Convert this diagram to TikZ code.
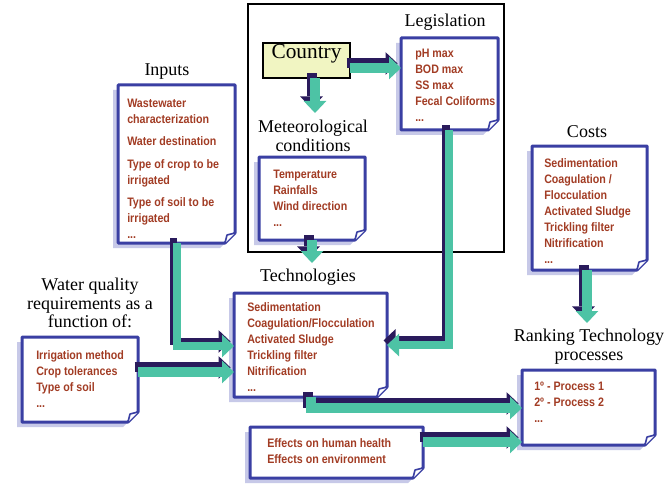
\documentclass[tikz,border=0pt]{standalone}
\usepackage{fontspec}
\setmainfont{Liberation Serif}
\newfontfamily\boxfont[FakeStretch=0.87]{Liberation Sans Bold}
\usetikzlibrary{arrows.meta,fit,backgrounds}
\definecolor{docblue}{HTML}{3A3FA3}
\definecolor{doctext}{HTML}{A23C24}
\definecolor{docshadow}{HTML}{C7C9E8}
\definecolor{arrteal}{HTML}{4DC3A5}
\definecolor{arrdark}{HTML}{2A1B5C}
\definecolor{countryfill}{HTML}{F1F5C2}
\tikzset{
  area/.style={inner sep=0pt, outer sep=0pt},
  lbl/.style={font=\fontsize{13.5}{14}\selectfont, align=center, inner sep=0pt},
  items/.style={font=\boxfont\fontsize{9.2}{12}\selectfont, text=doctext, align=left, inner sep=0pt, anchor=north west},
  fatshaft/.style={line join=miter, -{Triangle[width=17pt,length=9pt,line width=0pt]}},
}
\newcommand\docframe[1]{%
  \fill[docshadow] ([shift={(-5,5)}]#1.north west) -- ([shift={(-5,5)}]#1.north east) -- ([shift={(-5,-5)}]#1.south east) -- ([shift={(-15,5)}]#1.south east) -- ([shift={(-5,5)}]#1.south west) -- cycle;
  \filldraw[fill=white, draw=docblue, line width=2.25pt, line join=round] (#1.north west) -- (#1.north east) -- ([shift={(0,-10)}]#1.south east) -- ([shift={(-10,0)}]#1.south east) -- (#1.south west) -- cycle;
  \filldraw[fill=white, draw=docblue, line width=1.2pt, line join=round] ([shift={(0,-10)}]#1.south east) -- ([shift={(-8,-8)}]#1.south east) -- ([shift={(-10,0)}]#1.south east);
}
\newcommand\fatarrow[2][7.5pt]{%
  \draw[fatshaft, arrdark, line width=#1, transform canvas={shift={(-2.6pt,3.4pt)}}] #2;
  \draw[fatshaft, arrteal, line width=#1] #2;
}
\begin{document}
\begin{tikzpicture}[x=0.75pt,y=-0.75pt]
\useasboundingbox (0,0) rectangle (668,492);

% outer region
\node[area, fit={(248,4)(504,252)}, draw=black, line width=1.5pt] (region) {};

% country
\node[area, fit={(263,43)(350,78)}, draw=black, line width=1.1pt, fill=countryfill, font=\fontsize{16}{18}\selectfont] (country) {Country};

% document boxes (frames)
\node[area, fit={(401,38)(498,130)}] (leg) {};
\node[area, fit={(118,85)(235,243)}] (inp) {};
\node[area, fit={(259,157)(365,240)}] (met) {};
\node[area, fit={(234,293)(387,397)}] (tech) {};
\node[area, fit={(22,337)(138,422)}] (wqr) {};
\node[area, fit={(532,146)(647,270)}] (cost) {};
\node[area, fit={(522,370)(655,445)}] (rank) {};
\node[area, fit={(250,427)(423,478)}] (eff) {};

\begin{scope}[on background layer]
  \fill[white] (0,0) rectangle (668,492);
  \foreach \n in {leg,inp,met,tech,wqr,cost,rank,eff} {\docframe{\n}}
\end{scope}

% texts in boxes
\node[items] (legT) at ([shift={(14,11)}]leg.north west) {pH max\\BOD max\\SS max\\Fecal Coliforms\\...};
\node[items] (inpT) at ([shift={(9,14)}]inp.north west) {Wastewater\\characterization\\[4.5pt]Water destination\\[5pt]Type of crop to be\\irrigated\\[4.5pt]Type of soil to be\\irrigated\\...};
\node[items] (metT) at ([shift={(14,13)}]met.north west) {Temperature\\Rainfalls\\Wind direction\\...};
\node[items] (techT) at ([shift={(13,9)}]tech.north west) {Sedimentation\\Coagulation/Flocculation\\Activated Sludge\\Trickling filter\\Nitrification\\...};
\node[items] (wqrT) at ([shift={(14,13)}]wqr.north west) {Irrigation method\\Crop tolerances\\Type of soil\\...};
\node[items] (costT) at ([shift={(12,12)}]cost.north west) {Sedimentation\\Coagulation /\\Flocculation\\Activated Sludge\\Trickling filter\\Nitrification\\...};
\node[items] (rankT) at ([shift={(12,12)}]rank.north west) {1º - Process 1\\2º - Process 2\\...};
\node[items, font=\boxfont\fontsize{9.2}{12.5}\selectfont] (effT) at ([shift={(17,11)}]eff.north west) {Effects on human health\\Effects on environment};

% labels
\node[lbl] (legL) at (445,22) {Legislation};
\node[lbl] (inpL) at (167,72) {Inputs};
\node[lbl] (metL) at (313,136) {Meteorological\\conditions};
\node[lbl] (techL) at (308,277) {Technologies};
\node[lbl] (wqrL) at (90,303) {Water quality\\requirements as a\\function of:};
\node[lbl] (costL) at (587,132) {Costs};
\node[lbl] (rankL) at (589,347) {Ranking Technology\\processes};

% free ends
\coordinate (metTip) at (315,113);
\coordinate (techTip) at (312,263);
\coordinate (rankTip) at (587,323);

% arrows
\fatarrow{(country.east |- 0,68) -- (leg.west |- 0,68)}
\fatarrow{(country.south -| 315,0) -- (metTip)}
\fatarrow{(met.south -| 312,0) -- (techTip)}
\fatarrow[5.5pt]{(inp.south -| 177,0) |- (tech.west |- 0,346)}
\fatarrow{(wqr.east |- 0,372) -- (tech.west |- 0,372)}
\fatarrow[6pt]{(leg.south -| 449,0) |- (tech.east |- 0,345)}
\fatarrow{(cost.south -| 587,0) -- (rankTip)}
\fatarrow{(tech.south -| 311,0) |- (rank.west |- 0,408)}
\fatarrow{(eff.east |- 0,442) -- (rank.west |- 0,442)}
\end{tikzpicture}
\end{document}
